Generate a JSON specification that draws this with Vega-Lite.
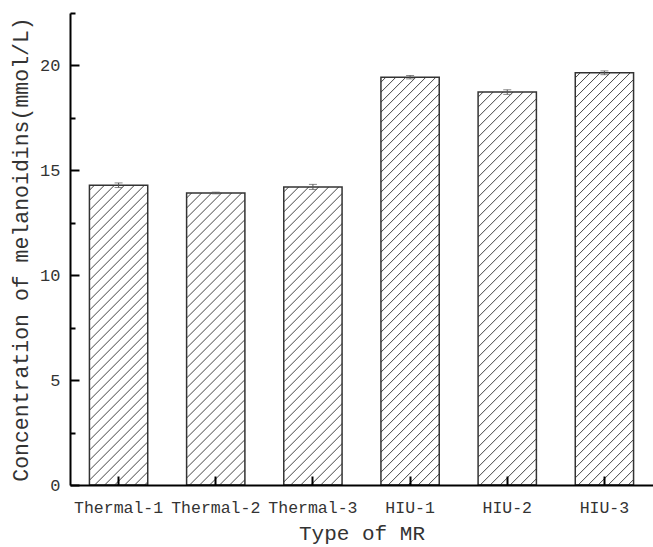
{
 "$schema": "https://vega.github.io/schema/vega-lite/v6.json",
 "width": 583,
 "height": 472,
 "autosize": "none",
 "padding": {"left": 70, "top": 13, "right": 0, "bottom": 62},
 "background": "white",
 "config": {"view": {"stroke": null}, "font": "Liberation Mono"},
 "params": [{"name": "hatch", "value": [
  {"offset":0.008,"color":"#fff"},{"offset":0.01,"color":"#444"},{"offset":0.012,"color":"#fff"},
  {"offset":0.028,"color":"#fff"},{"offset":0.03,"color":"#444"},{"offset":0.032,"color":"#fff"},
  {"offset":0.048,"color":"#fff"},{"offset":0.05,"color":"#444"},{"offset":0.052,"color":"#fff"},
  {"offset":0.068,"color":"#fff"},{"offset":0.07,"color":"#444"},{"offset":0.072,"color":"#fff"},
  {"offset":0.088,"color":"#fff"},{"offset":0.09,"color":"#444"},{"offset":0.092,"color":"#fff"},
  {"offset":0.108,"color":"#fff"},{"offset":0.11,"color":"#444"},{"offset":0.112,"color":"#fff"},
  {"offset":0.128,"color":"#fff"},{"offset":0.13,"color":"#444"},{"offset":0.132,"color":"#fff"},
  {"offset":0.148,"color":"#fff"},{"offset":0.15,"color":"#444"},{"offset":0.152,"color":"#fff"},
  {"offset":0.168,"color":"#fff"},{"offset":0.17,"color":"#444"},{"offset":0.172,"color":"#fff"},
  {"offset":0.188,"color":"#fff"},{"offset":0.19,"color":"#444"},{"offset":0.192,"color":"#fff"},
  {"offset":0.208,"color":"#fff"},{"offset":0.21,"color":"#444"},{"offset":0.212,"color":"#fff"},
  {"offset":0.228,"color":"#fff"},{"offset":0.23,"color":"#444"},{"offset":0.232,"color":"#fff"},
  {"offset":0.248,"color":"#fff"},{"offset":0.25,"color":"#444"},{"offset":0.252,"color":"#fff"},
  {"offset":0.268,"color":"#fff"},{"offset":0.27,"color":"#444"},{"offset":0.272,"color":"#fff"},
  {"offset":0.288,"color":"#fff"},{"offset":0.29,"color":"#444"},{"offset":0.292,"color":"#fff"},
  {"offset":0.308,"color":"#fff"},{"offset":0.31,"color":"#444"},{"offset":0.312,"color":"#fff"},
  {"offset":0.328,"color":"#fff"},{"offset":0.33,"color":"#444"},{"offset":0.332,"color":"#fff"},
  {"offset":0.348,"color":"#fff"},{"offset":0.35,"color":"#444"},{"offset":0.352,"color":"#fff"},
  {"offset":0.368,"color":"#fff"},{"offset":0.37,"color":"#444"},{"offset":0.372,"color":"#fff"},
  {"offset":0.388,"color":"#fff"},{"offset":0.39,"color":"#444"},{"offset":0.392,"color":"#fff"},
  {"offset":0.408,"color":"#fff"},{"offset":0.41,"color":"#444"},{"offset":0.412,"color":"#fff"},
  {"offset":0.428,"color":"#fff"},{"offset":0.43,"color":"#444"},{"offset":0.432,"color":"#fff"},
  {"offset":0.448,"color":"#fff"},{"offset":0.45,"color":"#444"},{"offset":0.452,"color":"#fff"},
  {"offset":0.468,"color":"#fff"},{"offset":0.47,"color":"#444"},{"offset":0.472,"color":"#fff"},
  {"offset":0.488,"color":"#fff"},{"offset":0.49,"color":"#444"},{"offset":0.492,"color":"#fff"},
  {"offset":0.508,"color":"#fff"},{"offset":0.51,"color":"#444"},{"offset":0.512,"color":"#fff"},
  {"offset":0.528,"color":"#fff"},{"offset":0.53,"color":"#444"},{"offset":0.532,"color":"#fff"},
  {"offset":0.548,"color":"#fff"},{"offset":0.55,"color":"#444"},{"offset":0.552,"color":"#fff"},
  {"offset":0.568,"color":"#fff"},{"offset":0.57,"color":"#444"},{"offset":0.572,"color":"#fff"},
  {"offset":0.588,"color":"#fff"},{"offset":0.59,"color":"#444"},{"offset":0.592,"color":"#fff"},
  {"offset":0.608,"color":"#fff"},{"offset":0.61,"color":"#444"},{"offset":0.612,"color":"#fff"},
  {"offset":0.628,"color":"#fff"},{"offset":0.63,"color":"#444"},{"offset":0.632,"color":"#fff"},
  {"offset":0.648,"color":"#fff"},{"offset":0.65,"color":"#444"},{"offset":0.652,"color":"#fff"},
  {"offset":0.668,"color":"#fff"},{"offset":0.67,"color":"#444"},{"offset":0.672,"color":"#fff"},
  {"offset":0.688,"color":"#fff"},{"offset":0.69,"color":"#444"},{"offset":0.692,"color":"#fff"},
  {"offset":0.708,"color":"#fff"},{"offset":0.71,"color":"#444"},{"offset":0.712,"color":"#fff"},
  {"offset":0.728,"color":"#fff"},{"offset":0.73,"color":"#444"},{"offset":0.732,"color":"#fff"},
  {"offset":0.748,"color":"#fff"},{"offset":0.75,"color":"#444"},{"offset":0.752,"color":"#fff"},
  {"offset":0.768,"color":"#fff"},{"offset":0.77,"color":"#444"},{"offset":0.772,"color":"#fff"},
  {"offset":0.788,"color":"#fff"},{"offset":0.79,"color":"#444"},{"offset":0.792,"color":"#fff"},
  {"offset":0.808,"color":"#fff"},{"offset":0.81,"color":"#444"},{"offset":0.812,"color":"#fff"},
  {"offset":0.828,"color":"#fff"},{"offset":0.83,"color":"#444"},{"offset":0.832,"color":"#fff"},
  {"offset":0.848,"color":"#fff"},{"offset":0.85,"color":"#444"},{"offset":0.852,"color":"#fff"},
  {"offset":0.868,"color":"#fff"},{"offset":0.87,"color":"#444"},{"offset":0.872,"color":"#fff"},
  {"offset":0.888,"color":"#fff"},{"offset":0.89,"color":"#444"},{"offset":0.892,"color":"#fff"},
  {"offset":0.908,"color":"#fff"},{"offset":0.91,"color":"#444"},{"offset":0.912,"color":"#fff"},
  {"offset":0.928,"color":"#fff"},{"offset":0.93,"color":"#444"},{"offset":0.932,"color":"#fff"}
 ]}],
 "data": {"values": [
  {"type": "Thermal-1", "value": 14.29, "err": 0.11},
  {"type": "Thermal-2", "value": 13.92, "err": 0.04},
  {"type": "Thermal-3", "value": 14.21, "err": 0.12},
  {"type": "HIU-1", "value": 19.44, "err": 0.08},
  {"type": "HIU-2", "value": 18.73, "err": 0.11},
  {"type": "HIU-3", "value": 19.65, "err": 0.09}
 ]},
 "resolve": {"axis": {"x": "independent", "y": "independent"}},
 "layer": [
  {
   "mark": {"type": "bar", "stroke": "#333", "strokeWidth": 1.5},
   "encoding": {
    "x": {
     "field": "type", "type": "nominal", "sort": null,
     "scale": {"paddingInner": 0.4, "paddingOuter": 0.2},
     "axis": {
      "orient": "bottom", "title": "Type of MR", "labelAngle": 0, "zindex": 1, "ticks": false,
      "domainColor": "black", "domainWidth": 2,
      "labelPadding": 14, "labelFontSize": 16.5, "labelColor": "#333", "labelFont": "Liberation Mono",
      "titleFont": "Liberation Mono", "titleFontSize": 21, "titleFontWeight": "normal", "titleColor": "#333", "titlePadding": 7,
      "grid": false
     }
    },
    "y": {
     "field": "value", "type": "quantitative",
     "scale": {"domain": [0, 22.5], "nice": false, "zero": true},
     "axis": {
      "orient": "left", "title": "Concentration of melanoidins(mmol/L)", "zindex": 1, "ticks": false,
      "values": [0, 5, 10, 15, 20],
      "domainColor": "black", "domainWidth": 2,
      "labelPadding": 10, "labelFontSize": 17, "labelColor": "#333", "labelFont": "Liberation Mono",
      "titleFont": "Liberation Mono", "titleFontSize": 21.5, "titleFontWeight": "normal", "titleColor": "#333", "titlePadding": 7,
      "grid": false
     }
    },
    "fill": {
     "field": "type", "type": "nominal", "legend": null,
     "scale": {
      "domain": ["Thermal-1", "Thermal-2", "Thermal-3", "HIU-1", "HIU-2", "HIU-3"],
      "range": [
       {"expr": "{gradient:'linear',x1:0,y1:0,x2:0.3125,y2:1.607,stops:hatch}"},
       {"expr": "{gradient:'linear',x1:0,y1:0,x2:0.3287,y2:1.6466,stops:hatch}"},
       {"expr": "{gradient:'linear',x1:0,y1:0,x2:0.316,y2:1.6157,stops:hatch}"},
       {"expr": "{gradient:'linear',x1:0,y1:0,x2:0.17177,y2:1.2015,stops:hatch}"},
       {"expr": "{gradient:'linear',x1:0,y1:0,x2:0.18476,y2:1.2451,stops:hatch}"},
       {"expr": "{gradient:'linear',x1:0,y1:0,x2:0.16823,y2:1.1894,stops:hatch}"}
      ]
     }
    }
   }
  },
  {
   "mark": {"type": "errorbar", "ticks": {"size": 8, "thickness": 1, "color": "#555"}, "rule": {"strokeWidth": 1, "color": "#555"}},
   "encoding": {
    "x": {
     "field": "type", "type": "nominal", "sort": null,
     "axis": {
      "orient": "top", "offset": -472, "zindex": 2, "title": null, "labels": false, "domain": false,
      "ticks": true, "tickSize": 9, "tickWidth": 2, "tickColor": "black", "grid": false
     }
    },
    "y": {
     "field": "value", "type": "quantitative",
     "axis": {
      "orient": "right", "offset": -583, "zindex": 2, "title": null, "labels": false, "domain": false,
      "values": [0, 2.5, 5, 7.5, 10, 12.5, 15, 17.5, 20, 22.5],
      "ticks": true, "tickWidth": 2, "tickColor": "black", "grid": false,
      "tickSize": {"condition": {"test": "datum.value % 5 === 0", "value": 9}, "value": 5}
     }
    },
    "yError": {"field": "err"}
   }
  }
 ]
}
